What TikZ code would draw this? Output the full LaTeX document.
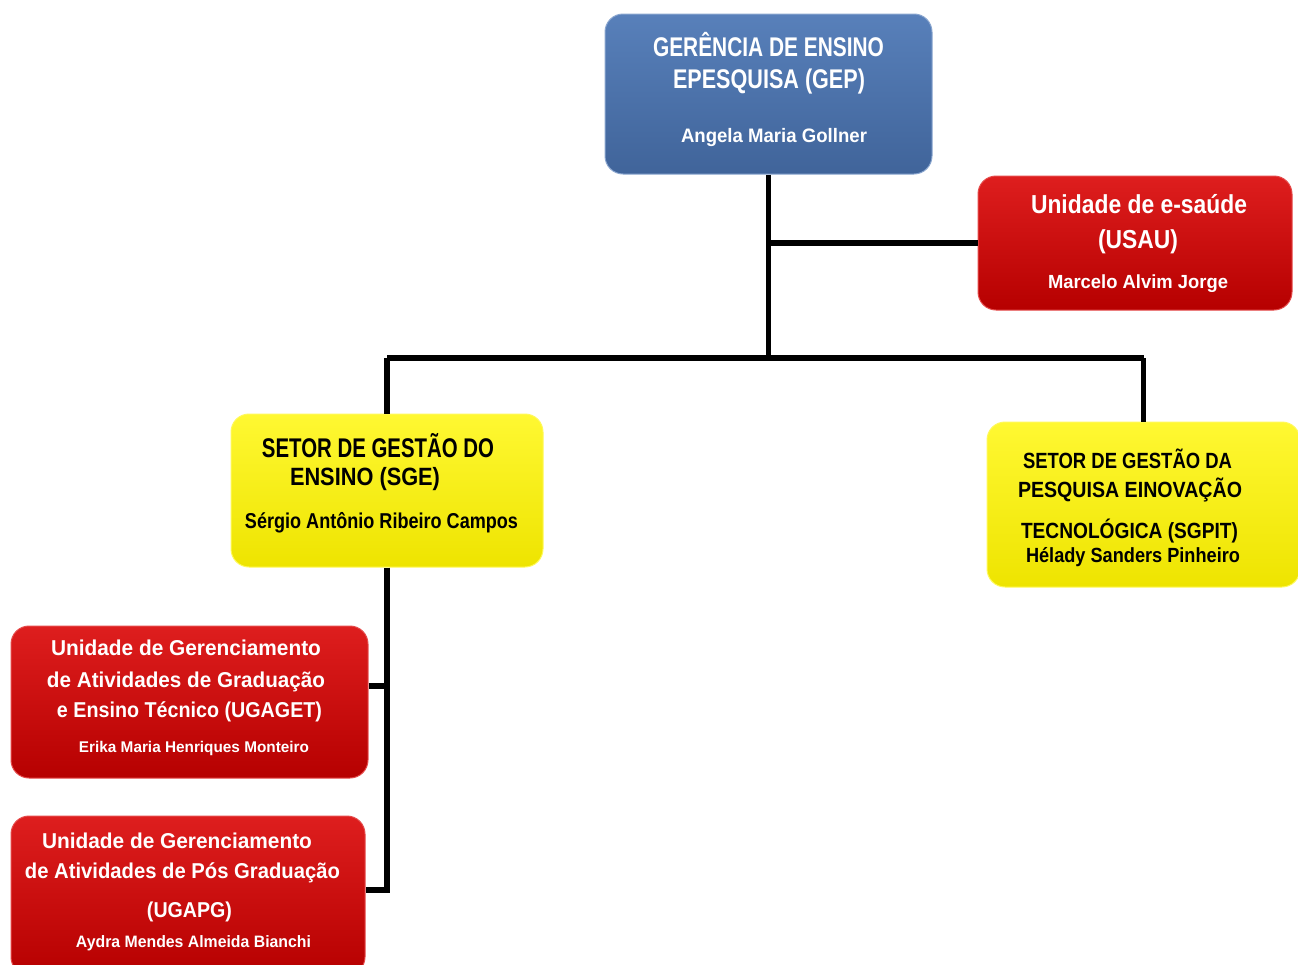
\documentclass[tikz,border=0pt]{standalone}
\usepackage{fontspec}
\setmainfont{Liberation Sans}
\usepackage{graphicx}
\definecolor{bluetop}{RGB}{88,128,186}
\definecolor{bluemid}{RGB}{72,110,164}
\definecolor{bluebot}{RGB}{64,100,154}
\definecolor{redtop}{RGB}{222,30,30}
\definecolor{redmid}{RGB}{196,8,8}
\definecolor{redbot}{RGB}{182,0,0}
\definecolor{yeltop}{RGB}{255,248,50}
\definecolor{yelmid}{RGB}{248,238,8}
\definecolor{yelbot}{RGB}{238,228,0}
\newcommand{\fs}[1]{\fontsize{#1}{#1}\selectfont\bfseries}
\newcommand{\fitw}[3]{\resizebox{#1pt}{\height}{\fs{#2}#3}}
\tikzset{
  box/.style={rectangle, rounded corners=18pt, minimum width=#1, inner sep=0pt},
  bluebox/.style={box=#1, top color=bluetop, middle color=bluemid, bottom color=bluebot, draw=bluetop!70!white, line width=1pt},
  redbox/.style={box=#1, top color=redtop, middle color=redmid, bottom color=redbot, draw=redtop!80!white, line width=1pt},
  yelbox/.style={box=#1, top color=yeltop, middle color=yelmid, bottom color=yelbot, draw=yeltop!80!white, line width=1pt},
  link/.style={line width=5.5pt, black, line join=miter},
  wt/.style={anchor=base, inner sep=0pt, text=white},
  bt/.style={anchor=base, inner sep=0pt, text=black}
}
\begin{document}
\begin{tikzpicture}[x=1pt,y=-1pt]
\useasboundingbox (0,0) rectangle (1298,964);
% boxes
\node[bluebox=327pt, minimum height=160pt] (gep) at (768.5,94) {};
\node[redbox=314pt, minimum height=134pt] (usau) at (1135,243) {};
\node[yelbox=312pt, minimum height=153pt] (sge) at (387,490.5) {};
\node[yelbox=313pt, minimum height=165pt] (sgpit) at (1143.5,504.5) {};
\node[redbox=357pt, minimum height=152pt] (ugaget) at (189.5,702) {};
\node[redbox=354pt, minimum height=159pt] (ugapg) at (188,895.5) {};
% connectors
\coordinate (j) at (767,358);
\coordinate (pg) at ([yshift=5.5pt]ugapg.east);
\coordinate (pt) at ([yshift=16pt]ugaget.east);
\draw[link] (gep.south) -- (gep.south |- j);
\draw[link] (gep.south |- usau.west) -- (usau.west);
\draw[link] (sge.north |- j) -- (sgpit.north |- j);
\draw[link] (sge.north |- j) -- (sge.north);
\draw[link] (sgpit.north |- j) -- (sgpit.north);
\draw[link] (sge.south) -- (sge.south |- pg) -- (pg);
\draw[link] (pt) -- (sge.south |- pt);
% texts GEP
\node[wt] (gep1) at (768.5,56) {\fitw{231}{27}{GERÊNCIA DE ENSINO}};
\node[wt] (gep2) at (769,88) {\fitw{192}{27}{EPESQUISA (GEP)}};
\node[wt] (gep3) at (774,142) {\fitw{186}{19.5}{Angela Maria Gollner}};
% USAU
\node[wt] (usau1) at (1139,213) {\fitw{216}{26}{Unidade de e-saúde}};
\node[wt] (usau2) at (1138,248) {\fitw{80}{26}{(USAU)}};
\node[wt] (usau3) at (1138,288) {\fitw{180}{19}{Marcelo Alvim Jorge}};
% SGE
\node[bt] (sge1) at (378,457) {\fitw{232}{27}{SETOR DE GESTÃO DO}};
\node[bt] (sge2) at (365,485) {\fitw{150}{25}{ENSINO (SGE)}};
\node[bt] (sge3) at (381.5,528) {\fitw{273}{21.5}{Sérgio Antônio Ribeiro Campos}};
% SGPIT
\node[bt] (sgpit1) at (1127.5,468) {\fitw{209}{22}{SETOR DE GESTÃO DA}};
\node[bt] (sgpit2) at (1130,497) {\fitw{224}{22}{PESQUISA EINOVAÇÃO}};
\node[bt] (sgpit3) at (1129.5,538) {\fitw{217}{22}{TECNOLÓGICA (SGPIT)}};
\node[bt] (sgpit4) at (1133,562) {\fitw{214}{20.5}{Hélady Sanders Pinheiro}};
% UGAGET
\node[wt] (ugaget1) at (186,655) {\fitw{270}{21.5}{Unidade de Gerenciamento}};
\node[wt] (ugaget2) at (186,687) {\fitw{278}{21.5}{de Atividades de Graduação}};
\node[wt] (ugaget3) at (189.5,717) {\fitw{265}{21.5}{e Ensino Técnico (UGAGET)}};
\node[wt] (ugaget4) at (194,752) {\fitw{230}{15.5}{Erika Maria Henriques Monteiro}};
% UGAPG
\node[wt] (ugapg1) at (177,848) {\fitw{270}{21.5}{Unidade de Gerenciamento}};
\node[wt] (ugapg2) at (182.5,878) {\fitw{315}{21.5}{de Atividades de Pós Graduação}};
\node[wt] (ugapg3) at (189.5,917) {\fitw{85}{21.5}{(UGAPG)}};
\node[wt] (ugapg4) at (193.5,947) {\fitw{235}{16.5}{Aydra Mendes Almeida Bianchi}};
\end{tikzpicture}
\end{document}
